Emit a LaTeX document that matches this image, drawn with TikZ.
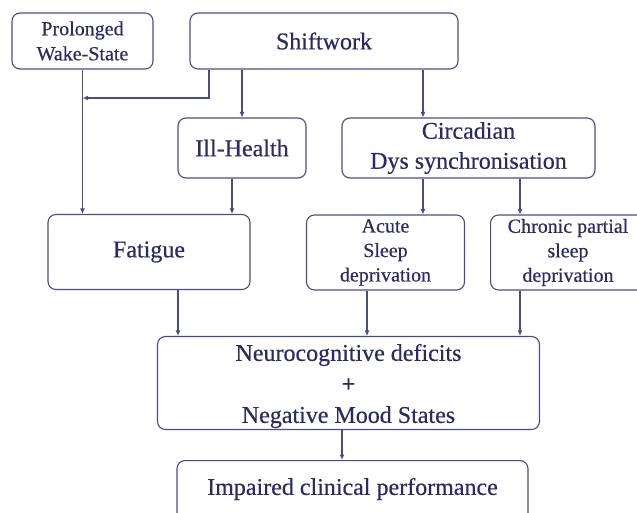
\documentclass[tikz,border=0pt]{standalone}
\usepackage{fontspec}
\setmainfont{Liberation Serif}[FakeBold=0.5]
\usetikzlibrary{positioning,calc,arrows.meta}

\definecolor{boxline}{HTML}{4B4B8C}
\definecolor{boxtext}{HTML}{2A2A66}

\begin{document}
\begin{tikzpicture}[
  x=1pt, y=1pt,
  >={Latex[length=5.5pt,width=5pt]},
  stage/.style={draw=boxline, line width=1.1pt, rounded corners=8pt, align=center, text=boxtext,
    font=\fontsize{24}{30}\selectfont, inner sep=0pt},
  cause/.style={stage, font=\fontsize{20}{25}\selectfont},
  sleep/.style={stage, font=\fontsize{20}{24.5}\selectfont},
  link/.style={->, draw=boxline, line width=1.1pt}
]
\clip (0,0) rectangle (637,-513);

\node[cause, minimum width=141pt, minimum height=56pt] (wake)  at (82.5,-41)  {Prolonged\\Wake-State};
\node[stage, minimum width=268pt, minimum height=56pt] (shift) at (324,-41)   {Shiftwork};
\node[stage, minimum width=128pt, minimum height=60pt] (ill)   at (242,-148)  {Ill-Health};
\node[stage, minimum width=253pt, minimum height=60pt] (circ)  at (468.5,-148) {Circadian\\Dys synchronisation};
\node[stage, minimum width=202pt, minimum height=75pt] (fatig) at (149,-252)  {Fatigue};
\node[sleep, minimum width=158pt, minimum height=75pt] (acute) at (385.5,-252.5) {Acute\\Sleep\\deprivation};
\node[sleep, minimum width=160pt, minimum height=75pt, anchor=west] (chron) at (490,-252.5) {};
\node[sleep, draw=none] (chrontxt) at (568,-252.5) {Chronic partial\\sleep\\deprivation};
\node[stage, minimum width=382pt, minimum height=93pt] (neuro) at (348.5,-383) {};
\node[stage, draw=none] (neurotxt) at (348.5,-386) {Neurocognitive deficits\\[1pt]\textbf{+}\\[1pt]Negative Mood States};
\node[stage, minimum width=351pt, minimum height=62pt, anchor=north] (perf) at (352.5,-460) {};
\node[stage, draw=none] (perftxt) at (352.5,-489) {Impaired clinical performance};

% upper level
\coordinate (join) at (wake.south |- 0,-98);
\draw[link] (wake.south) -- (fatig.north -| wake.south);
\draw[link] (shift.south -| 209,0) |- (join);
\draw[link] (shift.south -| ill) -- (ill.north);
\draw[link] (shift.south -| 423,0) -- (circ.north -| 423,0);

% middle level
\draw[link] (ill.south -| 232,0) -- (fatig.north -| 232,0);
\draw[link] (circ.south -| 423,0) -- (acute.north -| 423,0);
\draw[link] (circ.south -| 520,0) -- (chron.north -| 520,0);

% lower level
\foreach \n/\xpos in {fatig/178,acute/367,chron/520}
  \draw[link] (\n.south -| \xpos,0) -- (neuro.north -| \xpos,0);
\draw[link] (neuro.south -| 342,0) -- (perf.north -| 342,0);

\end{tikzpicture}
\end{document}
